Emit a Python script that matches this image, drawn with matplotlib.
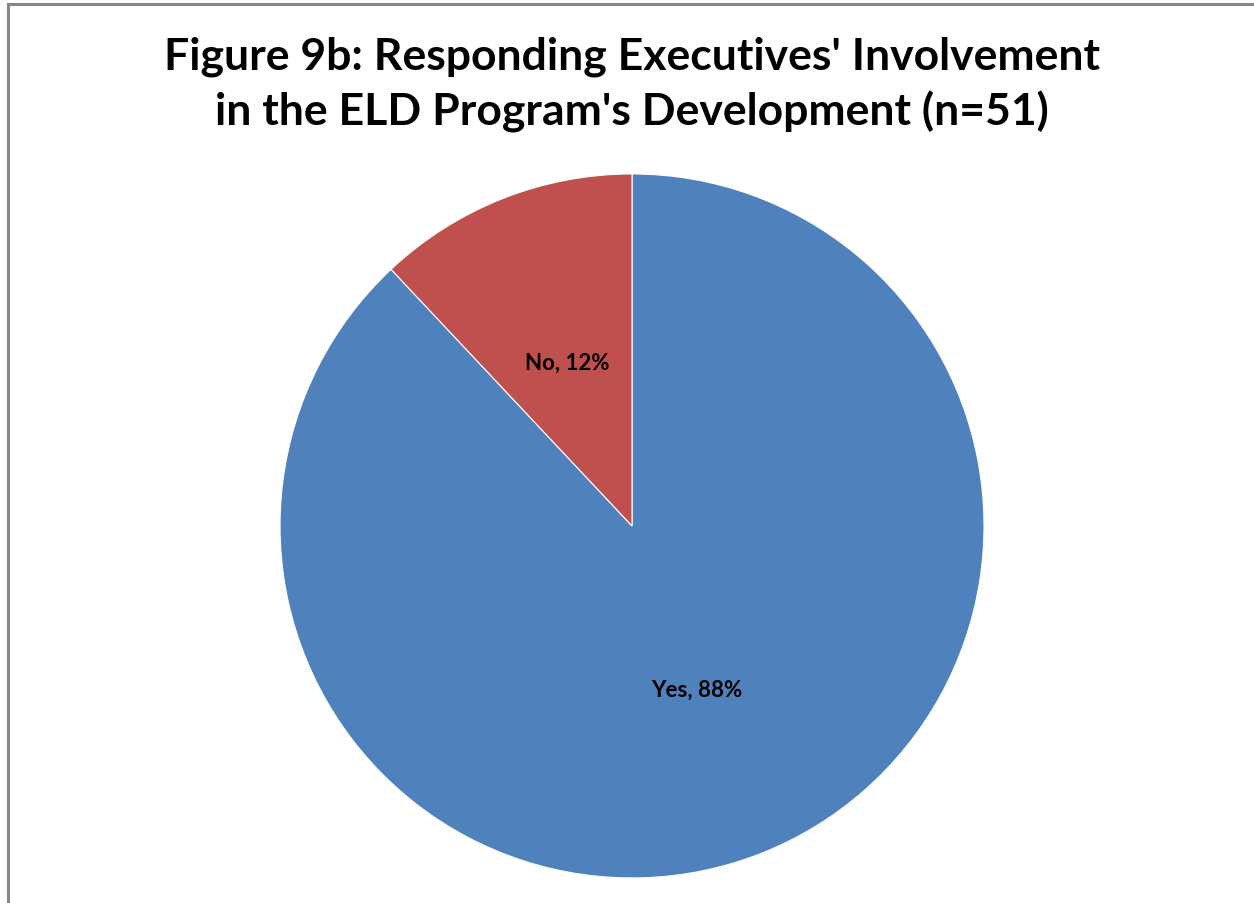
import matplotlib
matplotlib.use("Agg")
import matplotlib.pyplot as plt
from matplotlib.patches import Rectangle

categories = ["Yes", "No"]
shares = [88, 12]
colors = ["#4F81BD", "#C0504D"]
title_lines = ["Figure 9b: Responding Executives' Involvement",
               "in the ELD Program's Development (n=51)"]

plt.rcParams["font.family"] = ["Lato", "DejaVu Sans"]

fig = plt.figure(figsize=(12.54, 9.04), dpi=100)
fig.patch.set_facecolor("white")

# chart-area frame (runs past the right and bottom edges)
fig.add_artist(Rectangle((8 / 1254, -0.1), 1.2, 1.1 - 5 / 904,
                         transform=fig.transFigure, fill=False,
                         edgecolor="#868686", linewidth=2.2))

ax = fig.add_axes([0.2233, 0.0277, 0.5614, 0.7788])
labels = [f"{c}, {v}%" for c, v in zip(categories, shares)]
wedges, texts = ax.pie(shares, colors=colors, startangle=90, counterclock=False,
                       labels=labels, labeldistance=0.5,
                       wedgeprops=dict(edgecolor="white", linewidth=0.8),
                       textprops=dict(fontsize=16, fontweight="bold", color="black"))
for t in texts:
    t.set_horizontalalignment("center")
    t.set_verticalalignment("center")
ax.set_xlim(-1, 1)
ax.set_ylim(-1, 1)
ax.set_aspect("equal")

fig.text(0.504, 1 - 57 / 904, title_lines[0], ha="center", va="center",
         fontsize=32, fontweight="bold")
fig.text(0.504, 1 - 112 / 904, title_lines[1], ha="center", va="center",
         fontsize=32, fontweight="bold")

fig.savefig("out.png", dpi=100, facecolor="white")
